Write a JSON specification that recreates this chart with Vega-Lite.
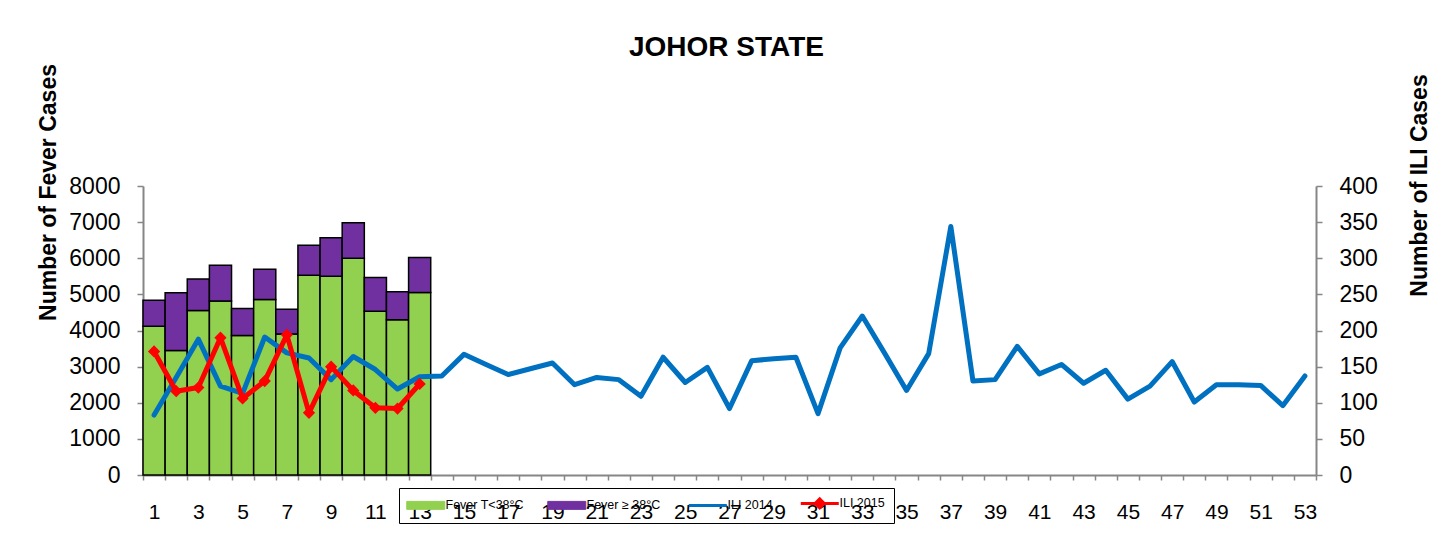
{
  "$schema": "https://vega.github.io/schema/vega-lite/v6.json",
  "width": 1173,
  "height": 289,
  "autosize": {"type": "none"},
  "padding": {"left": 143, "top": 186, "right": 134, "bottom": 58},
  "background": "white",
  "config": {
    "font": "Liberation Sans",
    "view": {"stroke": null},
    "axis": {"grid": false, "domainColor": "#868686", "domainWidth": 2, "tickColor": "#868686", "tickWidth": 1.5, "labelColor": "black", "titleColor": "black", "labelFont": "Liberation Sans", "titleFont": "Liberation Sans"},
    "legend": {
      "orient": "none", "legendX": 256, "legendY": 302, "direction": "horizontal", "padding": 9,
      "strokeColor": "black", "labelFontSize": 12.5, "labelColor": "black", "labelFont": "Liberation Sans",
      "symbolSize": 196, "labelOffset": 25, "columnPadding": 21, "title": null
    }
  },
  "title": {"text": "JOHOR STATE", "fontSize": 28, "fontWeight": "bold", "color": "black", "anchor": "middle", "baseline": "alphabetic", "offset": -20, "dx": -3},
  "datasets": {
    "fever": [
      {"week": 1, "series": "Fever T<38°C", "cases": 4120}, {"week": 1, "series": "Fever ≥ 38°C", "cases": 715},
      {"week": 2, "series": "Fever T<38°C", "cases": 3445}, {"week": 2, "series": "Fever ≥ 38°C", "cases": 1600},
      {"week": 3, "series": "Fever T<38°C", "cases": 4555}, {"week": 3, "series": "Fever ≥ 38°C", "cases": 870},
      {"week": 4, "series": "Fever T<38°C", "cases": 4815}, {"week": 4, "series": "Fever ≥ 38°C", "cases": 990},
      {"week": 5, "series": "Fever T<38°C", "cases": 3860}, {"week": 5, "series": "Fever ≥ 38°C", "cases": 750},
      {"week": 6, "series": "Fever T<38°C", "cases": 4860}, {"week": 6, "series": "Fever ≥ 38°C", "cases": 835},
      {"week": 7, "series": "Fever T<38°C", "cases": 3900}, {"week": 7, "series": "Fever ≥ 38°C", "cases": 685},
      {"week": 8, "series": "Fever T<38°C", "cases": 5530}, {"week": 8, "series": "Fever ≥ 38°C", "cases": 830},
      {"week": 9, "series": "Fever T<38°C", "cases": 5500}, {"week": 9, "series": "Fever ≥ 38°C", "cases": 1065},
      {"week": 10, "series": "Fever T<38°C", "cases": 6000}, {"week": 10, "series": "Fever ≥ 38°C", "cases": 980},
      {"week": 11, "series": "Fever T<38°C", "cases": 4535}, {"week": 11, "series": "Fever ≥ 38°C", "cases": 935},
      {"week": 12, "series": "Fever T<38°C", "cases": 4295}, {"week": 12, "series": "Fever ≥ 38°C", "cases": 780},
      {"week": 13, "series": "Fever T<38°C", "cases": 5055}, {"week": 13, "series": "Fever ≥ 38°C", "cases": 965}
    ],
    "ili": [
      {"week": 1, "series": "ILI 2014", "cases": 83}, {"week": 2, "series": "ILI 2014", "cases": 135},
      {"week": 3, "series": "ILI 2014", "cases": 188}, {"week": 4, "series": "ILI 2014", "cases": 123},
      {"week": 5, "series": "ILI 2014", "cases": 113}, {"week": 6, "series": "ILI 2014", "cases": 191},
      {"week": 7, "series": "ILI 2014", "cases": 169}, {"week": 8, "series": "ILI 2014", "cases": 162},
      {"week": 9, "series": "ILI 2014", "cases": 132}, {"week": 10, "series": "ILI 2014", "cases": 164},
      {"week": 11, "series": "ILI 2014", "cases": 146}, {"week": 12, "series": "ILI 2014", "cases": 119},
      {"week": 13, "series": "ILI 2014", "cases": 136}, {"week": 14, "series": "ILI 2014", "cases": 137},
      {"week": 15, "series": "ILI 2014", "cases": 167}, {"week": 16, "series": "ILI 2014", "cases": 153},
      {"week": 17, "series": "ILI 2014", "cases": 139}, {"week": 18, "series": "ILI 2014", "cases": 147},
      {"week": 19, "series": "ILI 2014", "cases": 155}, {"week": 20, "series": "ILI 2014", "cases": 125},
      {"week": 21, "series": "ILI 2014", "cases": 135}, {"week": 22, "series": "ILI 2014", "cases": 132},
      {"week": 23, "series": "ILI 2014", "cases": 109}, {"week": 24, "series": "ILI 2014", "cases": 163},
      {"week": 25, "series": "ILI 2014", "cases": 128}, {"week": 26, "series": "ILI 2014", "cases": 149},
      {"week": 27, "series": "ILI 2014", "cases": 92}, {"week": 28, "series": "ILI 2014", "cases": 158},
      {"week": 29, "series": "ILI 2014", "cases": 161}, {"week": 30, "series": "ILI 2014", "cases": 163},
      {"week": 31, "series": "ILI 2014", "cases": 85}, {"week": 32, "series": "ILI 2014", "cases": 176},
      {"week": 33, "series": "ILI 2014", "cases": 220}, {"week": 34, "series": "ILI 2014", "cases": 169},
      {"week": 35, "series": "ILI 2014", "cases": 117}, {"week": 36, "series": "ILI 2014", "cases": 168},
      {"week": 37, "series": "ILI 2014", "cases": 344}, {"week": 38, "series": "ILI 2014", "cases": 130},
      {"week": 39, "series": "ILI 2014", "cases": 132}, {"week": 40, "series": "ILI 2014", "cases": 178},
      {"week": 41, "series": "ILI 2014", "cases": 140}, {"week": 42, "series": "ILI 2014", "cases": 153},
      {"week": 43, "series": "ILI 2014", "cases": 127}, {"week": 44, "series": "ILI 2014", "cases": 145},
      {"week": 45, "series": "ILI 2014", "cases": 105}, {"week": 46, "series": "ILI 2014", "cases": 123},
      {"week": 47, "series": "ILI 2014", "cases": 157}, {"week": 48, "series": "ILI 2014", "cases": 101},
      {"week": 49, "series": "ILI 2014", "cases": 125}, {"week": 50, "series": "ILI 2014", "cases": 125},
      {"week": 51, "series": "ILI 2014", "cases": 124}, {"week": 52, "series": "ILI 2014", "cases": 96},
      {"week": 53, "series": "ILI 2014", "cases": 137},
      {"week": 1, "series": "ILI 2015", "cases": 171}, {"week": 2, "series": "ILI 2015", "cases": 116},
      {"week": 3, "series": "ILI 2015", "cases": 121}, {"week": 4, "series": "ILI 2015", "cases": 190},
      {"week": 5, "series": "ILI 2015", "cases": 106}, {"week": 6, "series": "ILI 2015", "cases": 130},
      {"week": 7, "series": "ILI 2015", "cases": 194}, {"week": 8, "series": "ILI 2015", "cases": 86},
      {"week": 9, "series": "ILI 2015", "cases": 150}, {"week": 10, "series": "ILI 2015", "cases": 117},
      {"week": 11, "series": "ILI 2015", "cases": 93}, {"week": 12, "series": "ILI 2015", "cases": 92},
      {"week": 13, "series": "ILI 2015", "cases": 126}
    ]
  },
  "encoding": {
    "x": {
      "field": "week", "type": "ordinal",
      "scale": {"type": "band", "paddingInner": 0, "paddingOuter": 0, "domain": [1,2,3,4,5,6,7,8,9,10,11,12,13,14,15,16,17,18,19,20,21,22,23,24,25,26,27,28,29,30,31,32,33,34,35,36,37,38,39,40,41,42,43,44,45,46,47,48,49,50,51,52,53]},
      "axis": {"title": null, "tickBand": "extent", "labelAngle": 0, "labelExpr": "datum.value % 2 == 1 ? datum.label : ''", "labelFontSize": 21, "tickSize": 5, "labelPadding": 21, "labelOverlap": false}
    }
  },
  "layer": [
    {
      "data": {"name": "fever"},
      "mark": {"type": "bar", "stroke": "black", "strokeWidth": 1.5, "opacity": 1},
      "encoding": {
        "y": {
          "field": "cases", "type": "quantitative", "stack": "zero",
          "scale": {"domain": [0, 8000], "nice": false},
          "axis": {"title": "Number of Fever Cases", "values": [0,1000,2000,3000,4000,5000,6000,7000,8000], "format": "d", "labelFontSize": 23, "tickSize": 6, "labelPadding": 17, "titleFontSize": 23, "titleFontWeight": "bold", "titleAngle": -90, "titleX": -95, "titleY": 6, "titleAlign": "center", "titleBaseline": "middle"}
        },
        "color": {
          "field": "series", "type": "nominal",
          "scale": {"domain": ["Fever T<38°C", "Fever ≥ 38°C", "ILI 2014", "ILI 2015"], "range": ["#92D050", "#7030A0", "#0070C0", "#FF0000"]},
          "legend": {
            "encode": {"symbols": {"update": {
              "shape": {"signal": "datum.value == 'ILI 2014' ? 'M-1.07,0H4.36' : (datum.value == 'ILI 2015' ? 'M-1.07,0H4.36M1,0L1.64,-0.64L2.28,0L1.64,0.64Z' : 'M-1.07,-0.57H4.36V0.57H-1.07Z')"},
              "fill": {"signal": "datum.value == 'Fever T<38°C' ? '#92D050' : (datum.value == 'Fever ≥ 38°C' ? '#7030A0' : (datum.value == 'ILI 2015' ? '#FF0000' : 'transparent'))"},
              "stroke": {"signal": "datum.value == 'ILI 2014' ? '#0070C0' : (datum.value == 'ILI 2015' ? '#FF0000' : 'black')"},
              "strokeWidth": {"signal": "(datum.value == 'ILI 2014' || datum.value == 'ILI 2015') ? 3 : 1"},
              "opacity": {"value": 1}
            }}}
          }
        },
        "order": {"field": "series", "sort": "ascending"}
      }
    },
    {
      "data": {"name": "ili"},
      "encoding": {
        "y": {
          "field": "cases", "type": "quantitative",
          "scale": {"domain": [0, 400], "nice": false},
          "axis": {"orient": "right", "title": "Number of ILI Cases", "values": [0,50,100,150,200,250,300,350,400], "format": "d", "labelFontSize": 23, "tickSize": 6, "labelPadding": 17, "titleFontSize": 23, "titleFontWeight": "bold", "titleAngle": -90, "titleX": 103, "titleY": -1, "titleAlign": "center", "titleBaseline": "middle"}
        }
      },
      "layer": [
        {
          "mark": {"type": "line", "strokeWidth": 5, "strokeJoin": "round", "strokeCap": "round"},
          "encoding": {
            "color": {"field": "series", "type": "nominal",
              "scale": {"domain": ["Fever T<38°C", "Fever ≥ 38°C", "ILI 2014", "ILI 2015"], "range": ["#92D050", "#7030A0", "#0070C0", "#FF0000"]},
              "legend": {
                "encode": {"symbols": {"update": {
                  "shape": {"signal": "datum.value == 'ILI 2014' ? 'M-1.07,0H4.36' : (datum.value == 'ILI 2015' ? 'M-1.07,0H4.36M1,0L1.64,-0.64L2.28,0L1.64,0.64Z' : 'M-1.07,-0.57H4.36V0.57H-1.07Z')"},
                  "fill": {"signal": "datum.value == 'Fever T<38°C' ? '#92D050' : (datum.value == 'Fever ≥ 38°C' ? '#7030A0' : (datum.value == 'ILI 2015' ? '#FF0000' : 'transparent'))"},
                  "stroke": {"signal": "datum.value == 'ILI 2014' ? '#0070C0' : (datum.value == 'ILI 2015' ? '#FF0000' : 'black')"},
                  "strokeWidth": {"signal": "(datum.value == 'ILI 2014' || datum.value == 'ILI 2015') ? 3 : 1"},
                  "opacity": {"value": 1}
                }}}
              }}
          }
        },
        {
          "transform": [{"filter": "datum.series == 'ILI 2015'"}],
          "mark": {"type": "point", "shape": "diamond", "filled": true, "size": 150, "opacity": 1},
          "encoding": {
            "color": {"field": "series", "type": "nominal",
              "scale": {"domain": ["Fever T<38°C", "Fever ≥ 38°C", "ILI 2014", "ILI 2015"], "range": ["#92D050", "#7030A0", "#0070C0", "#FF0000"]},
              "legend": {
                "encode": {"symbols": {"update": {
                  "shape": {"signal": "datum.value == 'ILI 2014' ? 'M-1.07,0H4.36' : (datum.value == 'ILI 2015' ? 'M-1.07,0H4.36M1,0L1.64,-0.64L2.28,0L1.64,0.64Z' : 'M-1.07,-0.57H4.36V0.57H-1.07Z')"},
                  "fill": {"signal": "datum.value == 'Fever T<38°C' ? '#92D050' : (datum.value == 'Fever ≥ 38°C' ? '#7030A0' : (datum.value == 'ILI 2015' ? '#FF0000' : 'transparent'))"},
                  "stroke": {"signal": "datum.value == 'ILI 2014' ? '#0070C0' : (datum.value == 'ILI 2015' ? '#FF0000' : 'black')"},
                  "strokeWidth": {"signal": "(datum.value == 'ILI 2014' || datum.value == 'ILI 2015') ? 3 : 1"},
                  "opacity": {"value": 1}
                }}}
              }}
          }
        }
      ]
    }
  ],
  "resolve": {"scale": {"y": "independent"}}
}
